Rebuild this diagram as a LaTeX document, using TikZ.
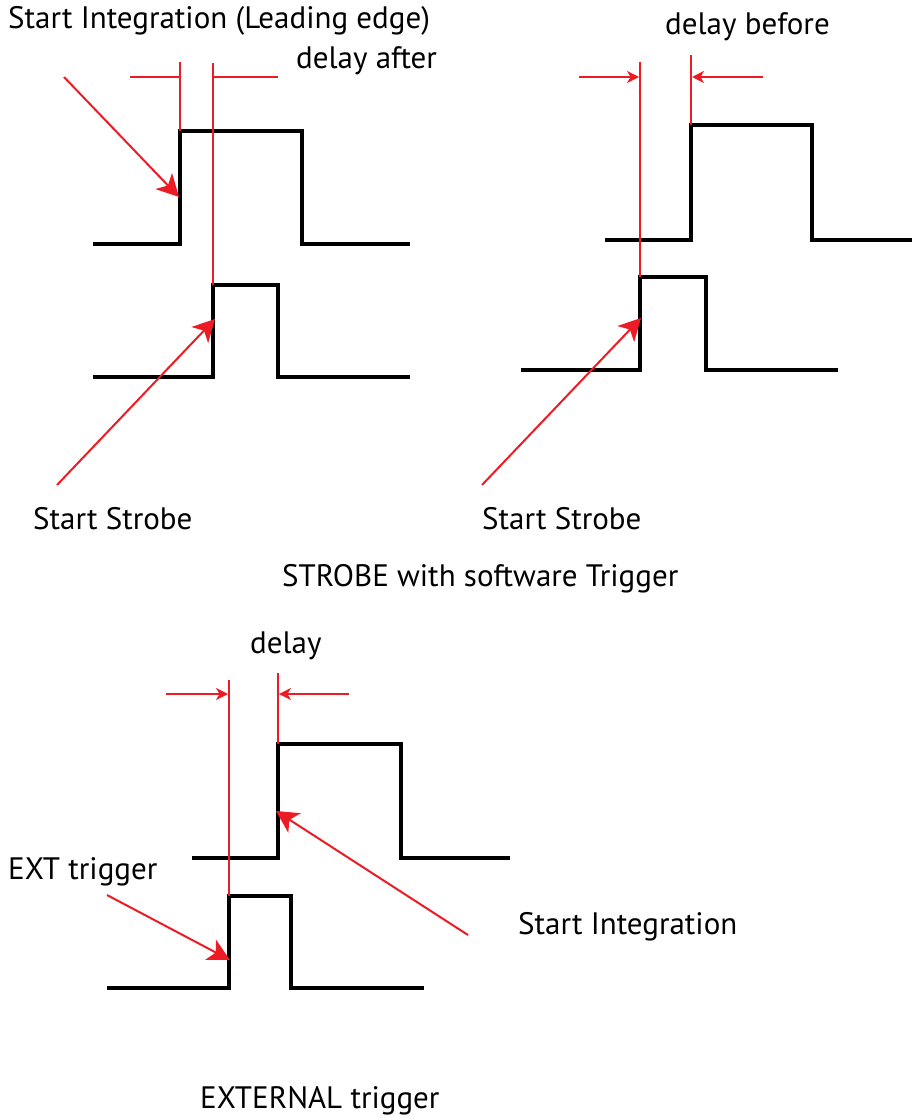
\documentclass[tikz,border=0pt]{standalone}
\usepackage{fontspec}
\setmainfont{PT Sans}
\usetikzlibrary{arrows.meta}
\definecolor{mark}{RGB}{237,28,36}
\begin{document}
\begin{tikzpicture}[x=1pt,y=-1pt,
  pulse/.style={draw=black, line width=4pt, line join=miter},
  pointer/.style={draw=mark, line width=2pt, -{Stealth[length=22pt,width=23pt,inset=6pt]}},
  guide/.style={draw=mark, line width=1.3pt},
  edgeline/.style={draw=mark, line width=2pt},
  dimarrow/.style={draw=mark, line width=1.3pt, -{Stealth[length=12pt,width=12pt,inset=3.5pt]}},
  lbl/.style={font=\fontsize{31}{36}\selectfont, anchor=base west, inner sep=0pt},
]
\useasboundingbox (0,0) rectangle (913,1118);

% ---- STROBE with software Trigger: delay after ----
\draw[pulse] (93,244) -- (180,244) -- (180,131) -- (302,131) -- (302,244) -- (410,244);
\draw[pulse] (93,377) -- (213,377) -- (213,285) -- (278,285) -- (278,377) -- (410,377);
\draw[edgeline] (180,62) -- (180,131);
\draw[guide] (213,63) -- (213,285);
\draw[guide] (130,77) -- (180,77);
\draw[guide] (213,77) -- (278,77);

\node[lbl] (tIntLead) at (8,29) {Start Integration (Leading edge)};
\node[lbl] (tAfter) at (296,69) {delay after};
\node[lbl] (tStrobeA) at (33,529) {Start Strobe};
\coordinate (p1s) at (64,77);   \coordinate (p1e) at (179,197);
\coordinate (p2s) at (57,485);  \coordinate (p2e) at (215,319);
\draw[pointer] (p1s) -- (p1e);
\draw[pointer] (p2s) -- (p2e);

% ---- STROBE with software Trigger: delay before ----
\draw[pulse] (605,240) -- (691,240) -- (691,125) -- (812,125) -- (812,240) -- (912,240);
\draw[pulse] (521,370) -- (640,370) -- (640,277) -- (706,277) -- (706,370) -- (838,370);
\draw[guide] (640,62) -- (640,277);
\draw[edgeline] (691,55) -- (691,125);
\coordinate (b1s) at (579,77);  \coordinate (b1e) at (639,77);
\coordinate (b2s) at (763,77);  \coordinate (b2e) at (692,77);
\draw[dimarrow] (b1s) -- (b1e);
\draw[dimarrow] (b2s) -- (b2e);

\node[lbl] (tBefore) at (665,35) {delay before};
\node[lbl] (tStrobeB) at (482,529) {Start Strobe};
\coordinate (p3s) at (482,485); \coordinate (p3e) at (641,318);
\draw[pointer] (p3s) -- (p3e);

\node[lbl] (tSoft) at (282,586) {STROBE with software Trigger};

% ---- EXTERNAL trigger ----
\draw[pulse] (192,858) -- (278,858) -- (278,744) -- (401,744) -- (401,858) -- (510,858);
\draw[pulse] (107,988) -- (229,988) -- (229,896) -- (291,896) -- (291,988) -- (424,988);
\draw[guide] (229,680) -- (229,896);
\draw[edgeline] (278,673) -- (278,744);
\coordinate (d1s) at (166,694); \coordinate (d1e) at (228,694);
\coordinate (d2s) at (349,694); \coordinate (d2e) at (279,694);
\draw[dimarrow] (d1s) -- (d1e);
\draw[dimarrow] (d2s) -- (d2e);

\node[lbl] (tDelay) at (250,653) {delay};
\node[lbl] (tExt) at (8,879) {EXT trigger};
\node[lbl] (tInt) at (518,934) {Start Integration};
\node[lbl] (tExternal) at (200,1108) {EXTERNAL trigger};
\coordinate (p4s) at (468,935); \coordinate (p4e) at (276,811);
\coordinate (p5s) at (107,895); \coordinate (p5e) at (230,960);
\draw[pointer] (p4s) -- (p4e);
\draw[pointer] (p5s) -- (p5e);
\end{tikzpicture}
\end{document}
